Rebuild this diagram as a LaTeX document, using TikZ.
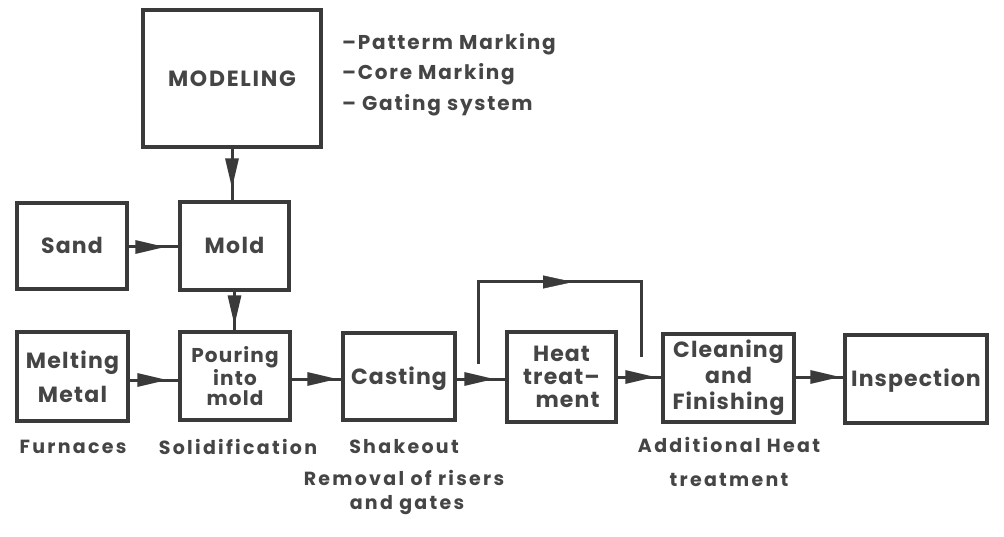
\documentclass[tikz,border=0pt]{standalone}
\usepackage{fontspec}
\setmainfont{Poppins}
\usetikzlibrary{arrows.meta,decorations.markings}
\definecolor{ink}{HTML}{3A3A3A}
\definecolor{txt}{HTML}{454545}
\newcommand{\boxfont}[3]{\fontsize{#1}{#2}\selectfont\bfseries\addfontfeatures{LetterSpace=#3}}
\tikzset{
  box/.style={draw=ink, line width=3.2pt, rectangle, inner sep=0pt, font=\boxfont{22}{24}{6}, text=txt, align=center},
  oneline/.style={text height=15.5pt, text depth=0pt},
  lbl/.style={font=\fontsize{19}{22}\selectfont\bfseries\addfontfeatures{LetterSpace=12}, text=txt, inner sep=0pt},
  lst/.style={font=\fontsize{20}{22}\selectfont\bfseries\addfontfeatures{LetterSpace=9}, text=txt, inner sep=0pt},
  conn/.style={draw=ink, line width=3pt},
  headat/.style={postaction={decorate}, decoration={markings, mark=at position #1 with {\arrow[ink]{Triangle[length=30pt,width=13pt]}}}}
}
\begin{document}
\begin{tikzpicture}[x=1pt,y=-1pt]
\useasboundingbox[fill=white] (0,0) rectangle (1004,537);
\node[box, oneline, minimum width=178pt, minimum height=137pt, font=\boxfont{22}{24}{8}] (model) at (232,78.5) {MODELING};
\node[box, oneline, minimum width=110pt, minimum height=86pt, font=\boxfont{22}{24}{5}] (sand) at (72,246) {Sand};
\node[box, oneline, minimum width=109pt, minimum height=88pt] (mold) at (234.5,246) {Mold};
\node[box, minimum width=111pt, minimum height=89pt, font=\boxfont{22}{34}{6}] (melt) at (72.5,376.5) {Melting\\Metal};
\node[box, minimum width=110pt, minimum height=88pt, font=\boxfont{20}{20}{6}] (pour) at (235,376) {Pouring\\into\\mold};
\node[box, oneline, minimum width=112pt, minimum height=87pt, font=\boxfont{22}{24}{5}] (cast) at (399,376.5) {Casting};
\node[box, minimum width=109pt, minimum height=90pt, font=\boxfont{22}{23}{5}] (heat) at (561.5,377) {Heat\\treat–\\\hspace*{12pt}ment};
\node[box, minimum width=131pt, minimum height=88pt, font=\boxfont{22}{26}{5}] (clean) at (728.5,378) {Cleaning\\and\\Finishing};
\node[box, oneline, minimum width=142pt, minimum height=88pt, font=\boxfont{22}{24}{5}] (insp) at (916,379) {Inspection};

\node[lst, anchor=west] (l1) at (342,44) {–Patterm Marking};
\node[lst, anchor=west] (l2) at (342,74) {–Core Marking};
\node[lst, anchor=west] (l3) at (342,105) {– Gating system};

\node[lbl] (furn) at (73,447) {Furnaces};
\node[lbl] (solid) at (238,447) {Solidification};
\node[lbl] (shake) at (404,447) {Shakeout};
\node[lbl] (remov) at (404,478) {Removal of risers};
\node[lbl] (gates) at (407,505) {and gates};
\node[lbl] (addh) at (729,445) {Additional Heat};
\node[lbl] (treat) at (729,480) {treatment};

\draw[conn, headat=-12pt] (model.south) -- (model.south |- mold.north);
\draw[conn, headat=-5pt] (mold.south) -- (mold.south |- pour.north);
\draw[conn, headat=-13pt] (sand.east) ++(0,1) coordinate (s1) -- (s1 -| mold.west);
\draw[conn, headat=-11pt] (melt.east) ++(0,3.5) coordinate (m1) -- (m1 -| pour.west);
\draw[conn, headat=-4pt] (pour.east) ++(0,3) coordinate (p1) -- (p1 -| cast.west);
\draw[conn, headat=-11pt] (cast.east) ++(0,2.5) coordinate (c1) -- (c1 -| heat.west);
\draw[conn, headat=-6pt] (heat.east) coordinate (h1) -- (h1 -| clean.west);
\draw[conn, headat=-3pt] (clean.east) ++(0,-1) coordinate (k1) -- (k1 -| insp.west);

\coordinate (b1) at (478,364);
\coordinate (b2) at (478,282);
\coordinate (b3) at (641,282);
\coordinate (b4) at (641,357);
\draw[conn] (b1) -- (b2) -- (b3) -- (b4);
\path[headat=95pt] (b2) -- (b3);
\end{tikzpicture}
\end{document}
